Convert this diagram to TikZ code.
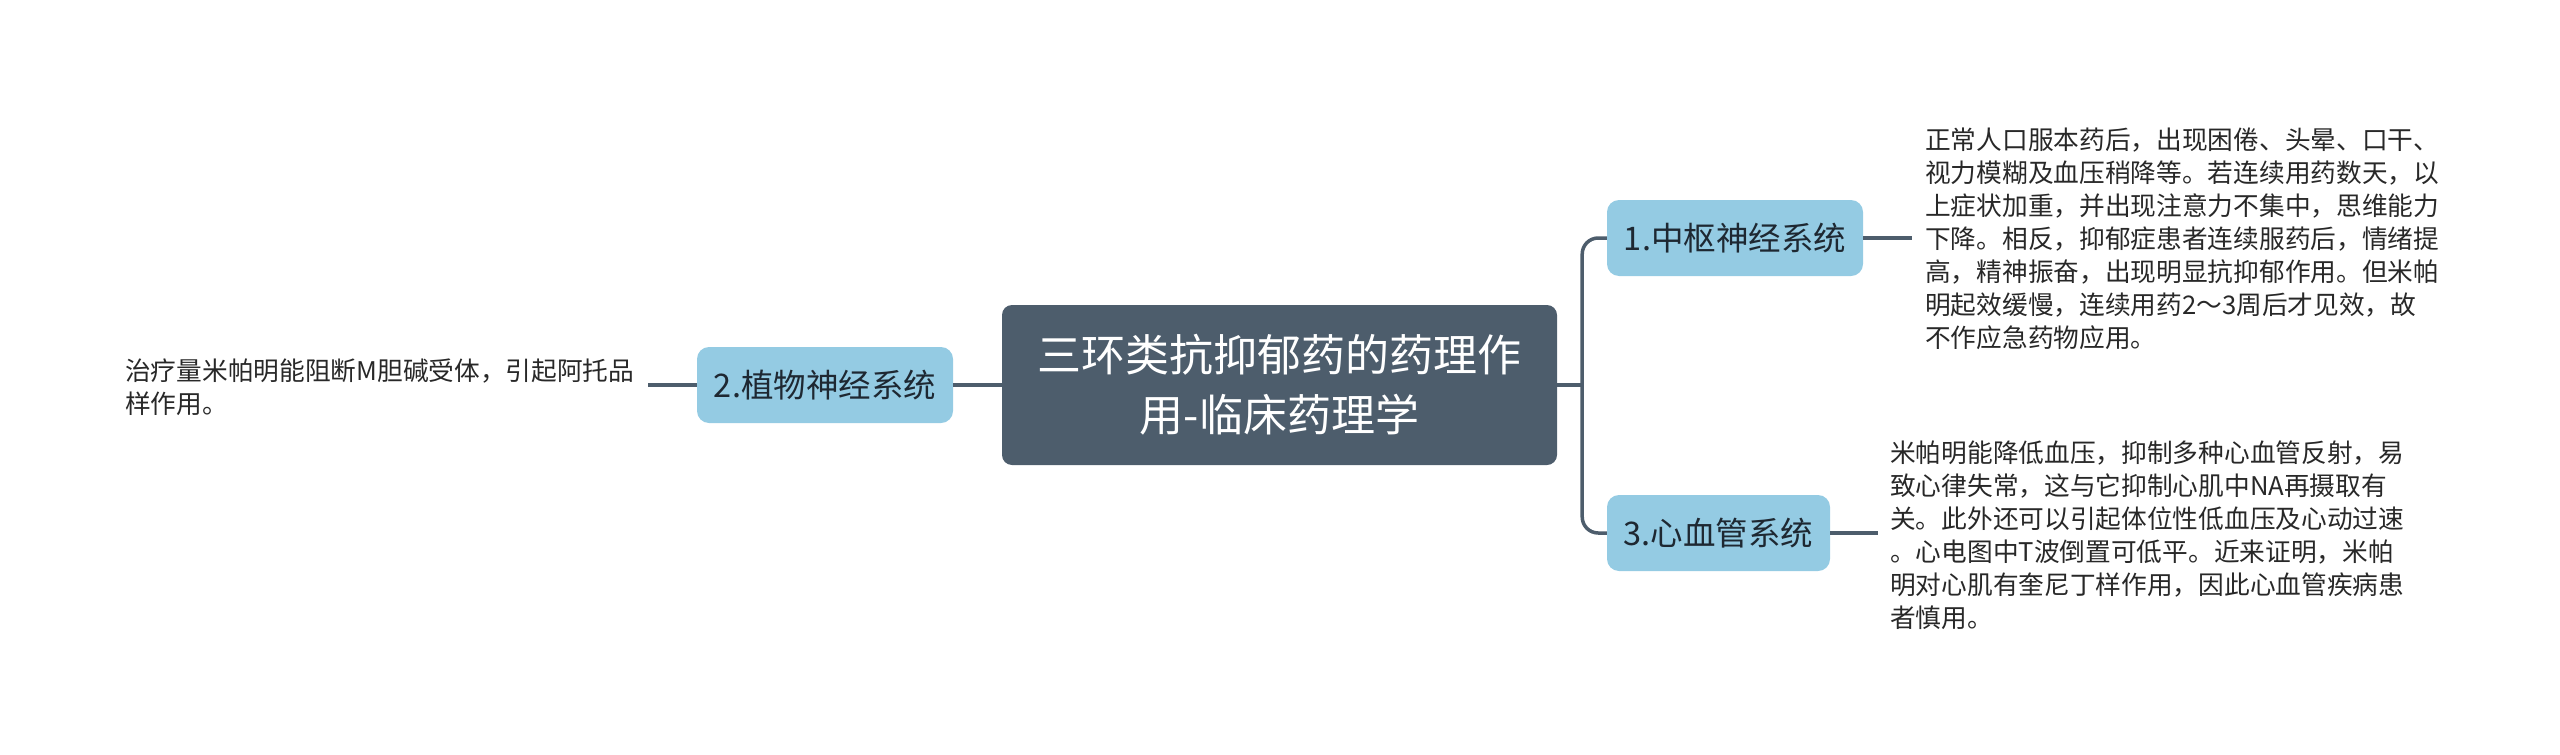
\documentclass[tikz,border=0pt]{standalone}
\usepackage{fontspec}
\setmainfont{Noto Sans CJK SC}
\definecolor{dark}{RGB}{77,93,108}
\definecolor{lblue}{RGB}{148,203,227}
\definecolor{txt}{RGB}{40,40,40}
\definecolor{ntxt}{RGB}{30,40,50}
\begin{document}
\begin{tikzpicture}[x=1pt,y=-1pt,
  central/.style={fill=dark, rounded corners=10pt, text=white, font=\fontsize{44}{60}\selectfont, align=center, minimum width=555pt, minimum height=160pt, inner sep=0pt},
  branch/.style={fill=lblue, rounded corners=12pt, text=ntxt, font=\fontsize{32.5}{38}\selectfont, minimum height=76pt, inner sep=0pt},
  leaf/.style={text=txt, font=\fontsize{25.7}{33}\selectfont, align=left, inner sep=0pt, anchor=west},
  conn/.style={draw=dark, line width=3.5pt, rounded corners=16pt}
]
\useasboundingbox (0,0) rectangle (2560,755);
\node[central] (c) at (1279.5,385) {三环类抗抑郁药的药理作\\用-临床药理学};
\node[branch, minimum width=256pt] (n1) at (1735,238) {1.中枢神经系统};
\node[branch, minimum width=223pt] (n3) at (1718.5,533) {3.心血管系统};
\node[branch, minimum width=256pt] (n2) at (825,385) {2.植物神经系统};
\node[leaf] (t1) at (1925,239) {正常人口服本药后，出现困倦、头晕、口干、\\
视力模糊及血压稍降等。若连续用药数天，以\\
上症状加重，并出现注意力不集中，思维能力\\
下降。相反，抑郁症患者连续服药后，情绪提\\
高，精神振奋，出现明显抗抑郁作用。但米帕\\
明起效缓慢，连续用药2～3周后才见效，故\\
不作应急药物应用。};
\node[leaf] (t3) at (1890,535) {米帕明能降低血压，抑制多种心血管反射，易\\
致心律失常，这与它抑制心肌中NA再摄取有\\
关。此外还可以引起体位性低血压及心动过速\\
。心电图中T波倒置可低平。近来证明，米帕\\
明对心肌有奎尼丁样作用，因此心血管疾病患\\
者慎用。};
\node[leaf] (t2) at (125,387) {治疗量米帕明能阻断M胆碱受体，引起阿托品\\
样作用。};
\coordinate (j) at ([xshift=25pt]c.east);
\coordinate (e1) at (1912,238);
\coordinate (e3) at (1878,533);
\coordinate (e2) at (648,385);
\draw[conn] (c.east) -- (j);
\draw[conn] (n1.west) -| (j) |- (n3.west);
\draw[conn] (c.west) -- (n2.east);
\draw[conn] (n2.west) -- (e2);
\draw[conn] (n1.east) -- (e1);
\draw[conn] (n3.east) -- (e3);
\end{tikzpicture}
\end{document}
